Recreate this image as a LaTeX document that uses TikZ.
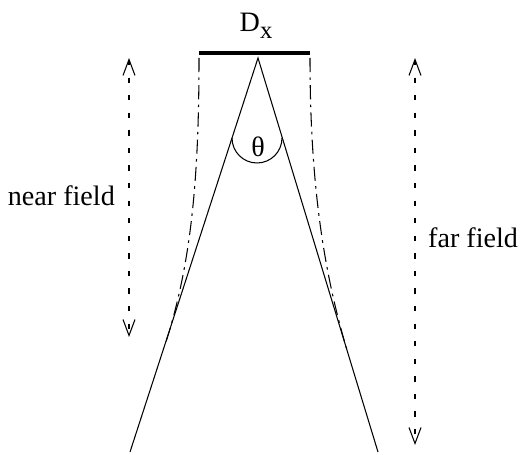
\documentclass[tikz,border=0pt]{standalone}
\usepackage{fontspec}
\setmainfont{Liberation Serif}
\usepackage{tikz}
\usetikzlibrary{arrows.meta,calc}

\begin{document}
\begin{tikzpicture}[
    fieldarrow/.style={line width=0.6pt,dash pattern=on 3pt off 7pt,{Straight Barb[length=3.2mm,width=2.4mm]}-{Straight Barb[length=3.2mm,width=2.4mm]}},
    edgeline/.style={line width=0.6pt,dash pattern=on 8pt off 3pt on 1.5pt off 3pt},
    lbl/.style={font=\fontsize{16}{19}\selectfont}
  ]
    \useasboundingbox (0,0) rectangle (10.48,9.1);
    \coordinate (apex) at (5.16,7.94);
    \coordinate (barL) at (3.98,8.04);
    \coordinate (barR) at (6.2,8.04);
    \coordinate (botL) at (2.6,0.06);
    \coordinate (botR) at (7.56,0.06);
    \draw[line width=2.8pt] (barL) -- (barR);
    \node[lbl] (dx) at (5.12,8.58) {D\raisebox{-0.5ex}{\fontsize{14}{16}\selectfont x}};
    \draw[line width=0.6pt] (botL) -- (apex) -- (botR);
    \draw[line width=0.6pt] (4.64,6.34) arc[start angle=180,end angle=360,radius=0.5];
    \node[lbl] (theta) at (5.16,6.16) {θ};
    % near field edges
    \draw[edgeline] (3.98,7.94) .. controls (3.98,5.5) and (3.82,3.8) .. (3.3,2.2);
    \draw[edgeline] (6.2,7.94) .. controls (6.2,5.5) and (6.46,3.7) .. (6.94,2.1);
    \coordinate (nearT) at (2.58,7.94);
    \coordinate (nearB) at (2.58,2.36);
    \coordinate (farT) at (8.3,7.94);
    \coordinate (farB) at (8.3,0.2);
    \draw[fieldarrow] (nearT) -- (nearB);
    \draw[fieldarrow] (farT) -- (farB);
    \node[lbl,anchor=east] (near) at (2.42,5.18) {near field};
    \node[lbl,anchor=west] (far) at (8.44,4.34) {far field};
  \end{tikzpicture}
\end{document}
